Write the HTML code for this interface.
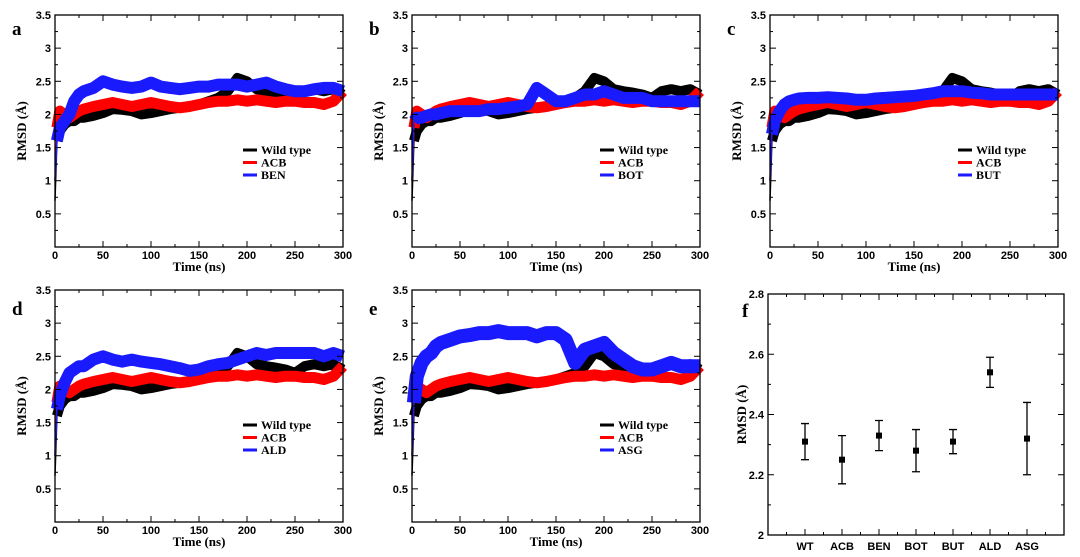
<!DOCTYPE html>
<html><head><meta charset="utf-8"><style>
html,body{margin:0;padding:0;background:#fff;}
svg{display:block;}
</style></head><body>
<svg id="fig" width="1080" height="557" viewBox="0 0 1080 557" xmlns="http://www.w3.org/2000/svg"></svg>
<script>
const times = [0,2,5,10,15,20,25,30,40,50,60,70,80,90,100,110,120,130,140,150,160,170,180,190,200,210,220,230,240,250,260,270,280,290,300];
const wildType = [0.7,1.6,1.75,1.85,1.9,1.9,1.95,1.95,1.98,2.02,2.08,2.07,2.05,2.0,2.02,2.05,2.08,2.1,2.12,2.15,2.2,2.25,2.35,2.55,2.5,2.38,2.35,2.33,2.3,2.25,2.35,2.38,2.35,2.38,2.3];
const acb = [1.0,1.8,2.05,2.0,1.95,2.0,2.05,2.08,2.12,2.15,2.18,2.15,2.12,2.15,2.18,2.15,2.12,2.1,2.12,2.15,2.18,2.2,2.2,2.22,2.2,2.22,2.2,2.18,2.2,2.2,2.18,2.18,2.15,2.2,2.35];
const ben = [1.0,1.6,1.8,1.9,2.0,2.2,2.3,2.35,2.4,2.5,2.45,2.42,2.4,2.42,2.48,2.42,2.4,2.38,2.4,2.42,2.42,2.45,2.45,2.45,2.42,2.45,2.48,2.42,2.38,2.35,2.35,2.38,2.4,2.4,2.35];
const bot = [1.0,1.9,1.95,1.95,1.98,2.0,2.0,2.02,2.05,2.05,2.05,2.05,2.08,2.08,2.1,2.12,2.15,2.4,2.3,2.2,2.2,2.25,2.3,2.3,2.35,2.3,2.25,2.25,2.25,2.2,2.2,2.2,2.2,2.2,2.2];
const but = [1.0,1.7,1.9,2.05,2.15,2.2,2.22,2.24,2.25,2.25,2.26,2.25,2.24,2.22,2.22,2.24,2.25,2.26,2.27,2.28,2.3,2.32,2.35,2.35,2.35,2.33,2.32,2.3,2.3,2.3,2.3,2.3,2.3,2.3,2.3];
const ald = [1.0,1.7,1.9,2.1,2.25,2.3,2.35,2.35,2.45,2.5,2.45,2.42,2.45,2.42,2.4,2.38,2.35,2.32,2.28,2.3,2.35,2.38,2.4,2.45,2.5,2.55,2.52,2.55,2.55,2.55,2.55,2.55,2.5,2.55,2.5];
const asg = [1.0,1.8,2.2,2.4,2.5,2.55,2.65,2.7,2.75,2.8,2.82,2.85,2.85,2.88,2.85,2.85,2.85,2.8,2.85,2.85,2.75,2.4,2.6,2.65,2.7,2.55,2.45,2.35,2.3,2.3,2.35,2.4,2.35,2.35,2.35];
const xTicks = [0,50,100,150,200,250,300];
const yTicks = [0.5,1,1.5,2,2.5,3,3.5];
const ligands = ["BEN","BOT","BUT","ALD","ASG"];
const ligandSeries = [ben,bot,but,ald,asg];
const panelLetters = ["a","b","c","d","e"];
const fCategories = ["WT","ACB","BEN","BOT","BUT","ALD","ASG"];
const fMeans = [2.31,2.25,2.33,2.28,2.31,2.54,2.32];
const fLow = [2.25,2.17,2.28,2.21,2.27,2.49,2.20];
const fHigh = [2.37,2.33,2.38,2.35,2.35,2.59,2.44];
const fTicks = [2,2.2,2.4,2.6,2.8];

const NS="http://www.w3.org/2000/svg";
const svg=document.getElementById('fig');
function mk(tag,attrs,parent,text){const e=document.createElementNS(NS,tag);for(const k in attrs)e.setAttribute(k,attrs[k]);if(text!==undefined)e.textContent=text;(parent||svg).appendChild(e);return e;}
const SANS='"Liberation Sans", "DejaVu Sans", sans-serif', SERIF='"Liberation Serif", serif';

const offsets=[[0,0],[357,0],[715,0],[0,275],[357,275]];
panelLetters.forEach((L,i)=>{
  const ox=offsets[i][0], oy=offsets[i][1];
  const x0=55+ox, x1=343+ox, yb=247+oy, yt=15+oy;
  const sx=t=>x0+(x1-x0)*t/300, sy=v=>yb-(yb-yt)*v/3.5;
  const g=mk('g',{});
  
  
  const series=[[wildType,'#000',10],[acb,'#ff0000',11],[ligandSeries[i],'#1a1aff',i===4?14:12]];
  series.forEach((s,k)=>{
    const nm=['wild-type-line','acb-line',ligands[i].toLowerCase()+'-line'][k];
    const sp=mk('line',{x1:sx(times[0]),y1:sy(s[0][0]),x2:sx(times[1]),y2:sy(s[0][1]),stroke:s[1],'stroke-width':1.5},g);
    
    
    const pts=times.slice(1).map((t,j)=>sx(t).toFixed(1)+','+sy(s[0][j+1]).toFixed(1)).join(' ');
    const p=mk('polyline',{points:pts,fill:'none',stroke:s[1],'stroke-width':s[2],'stroke-linejoin':'round','stroke-linecap':'butt'},g);
    
    
  });
  const fr=mk('rect',{x:x0,y:yt,width:x1-x0,height:yb-yt,fill:'none',stroke:'#000','stroke-width':1.3},g);
  
  
  for(let t=0;t<=300;t+=25){const big=t%50===0;const len=big?6:3;
    mk('line',{x1:sx(t),x2:sx(t),y1:yb,y2:yb-len,stroke:'#000'},g);
    mk('line',{x1:sx(t),x2:sx(t),y1:yt,y2:yt+len,stroke:'#000'},g);}
  for(let v=0.25;v<=3.5;v+=0.25){const big=Math.abs(v*2-Math.round(v*2))<1e-6;const len=big?6:3;
    mk('line',{x1:x0,x2:x0+len,y1:sy(v),y2:sy(v),stroke:'#000'},g);
    mk('line',{x1:x1,x2:x1-len,y1:sy(v),y2:sy(v),stroke:'#000'},g);}
  xTicks.forEach(t=>{const e=mk('text',{x:sx(t),y:yb+12,'text-anchor':'middle','font-family':SANS,'font-size':11,'font-weight':'bold'},g,String(t));
    });
  yTicks.forEach(v=>{const e=mk('text',{x:x0-4,y:sy(v)+4,'text-anchor':'end','font-family':SANS,'font-size':11,'font-weight':'bold'},g,String(v));
    });
  const xt=mk('text',{x:(x0+x1)/2,y:yb+24,'text-anchor':'middle','font-family':SERIF,'font-size':13,'font-weight':'bold'},g,'Time (ns)');
  
  const yx=ox+26, yy=(yt+yb)/2;
  const ytl=mk('text',{x:yx,y:yy,'text-anchor':'middle','font-family':SERIF,'font-size':13,'font-weight':'bold',transform:`rotate(-90 ${yx} ${yy})`},g,'RMSD (Å)');
  
  const pl=mk('text',{x:ox+12,y:oy+(i>2?40:35),'font-family':SERIF,'font-size':19,'font-weight':'bold'},g,L);
  
  const names=['Wild type','ACB',ligands[i]], cols=['#000','#ff0000','#1a1aff'];
  names.forEach((n,k)=>{const ly=oy+150+k*12.5;
    const ln=mk('line',{x1:ox+243,x2:ox+257,y1:ly,y2:ly,stroke:cols[k],'stroke-width':3},g);
    
    const tx=mk('text',{x:ox+261,y:ly+4,'font-family':SERIF,'font-size':12,'font-weight':'bold'},g,n);
    });
});

(function(){
  const x0=768,x1=1064,yt=294,yb=535;
  const sx=i=>x0+(x1-x0)*(i+1)/8, sy=v=>yb-(yb-yt)*(v-2)/0.8;
  const g=mk('g',{});
  
  
  const fr=mk('rect',{x:x0,y:yt,width:x1-x0,height:yb-yt,fill:'none',stroke:'#000','stroke-width':1.3},g);
  
  for(let k=0;k<=16;k++){const x=x0+(x1-x0)*k/16;const len=k%2===0?6:3;
    mk('line',{x1:x,x2:x,y1:yb,y2:yb-len,stroke:'#000'},g);mk('line',{x1:x,x2:x,y1:yt,y2:yt+len,stroke:'#000'},g);}
  for(let k=0;k<=8;k++){const v=2+k*0.1;const len=k%2===0?6:3;
    mk('line',{x1:x0,x2:x0+len,y1:sy(v),y2:sy(v),stroke:'#000'},g);mk('line',{x1:x1,x2:x1-len,y1:sy(v),y2:sy(v),stroke:'#000'},g);}
  fTicks.forEach(v=>{const e=mk('text',{x:x0-4,y:sy(v)+4,'text-anchor':'end','font-family':SANS,'font-size':11,'font-weight':'bold'},g,v===2?'2':v.toFixed(1));
    });
  fCategories.forEach((c,i)=>{const x=sx(i);
    const t=mk('text',{x:x,y:yb+15,'text-anchor':'middle','font-family':SANS,'font-size':11,'font-weight':'bold'},g,c);
    
    const eb=mk('path',{d:`M${x},${sy(fLow[i])}V${sy(fHigh[i])}M${x-4},${sy(fLow[i])}H${x+4}M${x-4},${sy(fHigh[i])}H${x+4}`,stroke:'#000','stroke-width':1.3,fill:'none'},g);
    
    const m=mk('rect',{x:x-3,y:sy(fMeans[i])-3,width:6,height:6,fill:'#000'},g);
    });
  const yx=746,yy=(yt+yb)/2;
  const ytl=mk('text',{x:yx,y:yy,'text-anchor':'middle','font-family':SERIF,'font-size':13,'font-weight':'bold',transform:`rotate(-90 ${yx} ${yy})`},g,'RMSD (Å)');
  
  const pl=mk('text',{x:742,y:317,'font-family':SERIF,'font-size':19,'font-weight':'bold'},g,'f');
  
})();
</script>
</body></html>
